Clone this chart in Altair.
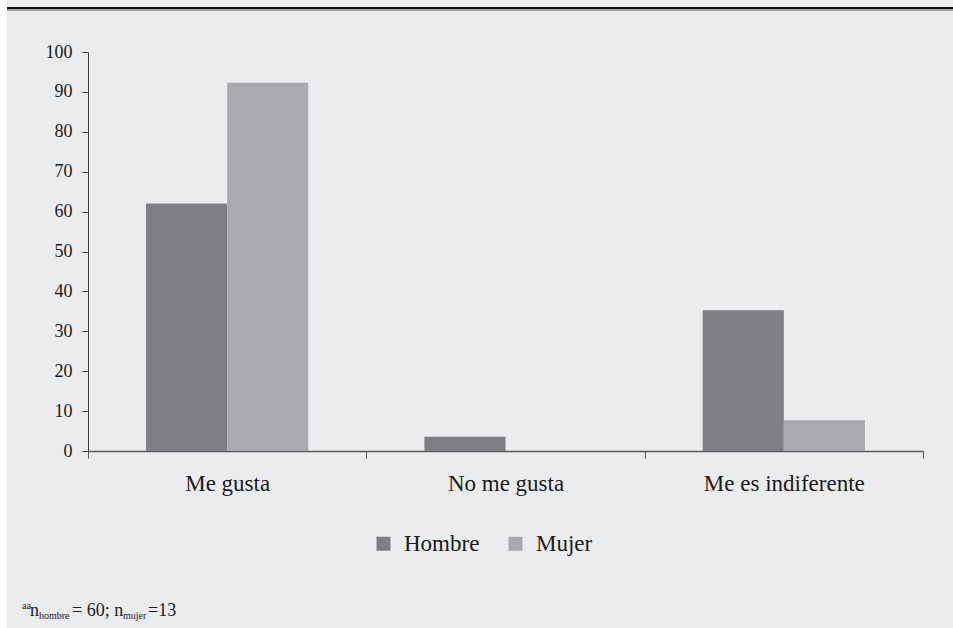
import altair as alt
import pandas as pd

categories = ["Me gusta", "No me gusta", "Me es indiferente"]
series = ["Hombre", "Mujer"]
hombre = [62.0, 3.6, 35.3]
mujer = [92.3, 0.0, 7.7]
y_ticks = list(range(0, 101, 10))
colors = ["#7E7F83", "#A9AAAD"]

rows = []
for c, h, m in zip(categories, hombre, mujer):
    rows.append({"cat": c, "sexo": "Hombre", "valor": h})
    rows.append({"cat": c, "sexo": "Mujer", "valor": m})
df = pd.DataFrame(rows)

FONT = "Liberation Serif"
W, H = 835, 399
L, T = 88, 52

bars = alt.Chart(df).mark_bar().encode(
    x=alt.X("cat:N", sort=categories, title=None,
            scale=alt.Scale(paddingInner=0, paddingOuter=0),
            axis=alt.Axis(tickBand="extent", tickSize=7, labelAngle=0,
                          labelFontSize=23, labelFont=FONT, labelColor="#1a1a1a",
                          labelPadding=14, domainColor="#5a5a5a", tickColor="#5a5a5a",
                          domainWidth=1.5, grid=False)),
    xOffset=alt.XOffset("sexo:N", sort=series,
                        scale=alt.Scale(paddingOuter=0.716, paddingInner=0)),
    y=alt.Y("valor:Q", title=None, scale=alt.Scale(domain=[0, 100], nice=False),
            axis=alt.Axis(values=y_ticks, tickSize=6, labelFontSize=18, labelFont=FONT,
                          labelColor="#1a1a1a", labelPadding=10, domainColor="#3a3a3a",
                          tickColor="#3a3a3a", grid=False)),
    color=alt.Color("sexo:N", sort=series,
                    scale=alt.Scale(domain=series, range=colors),
                    legend=alt.Legend(title=None, orient="none", legendX=284, legendY=480,
                                      direction="horizontal", symbolType="square",
                                      symbolSize=196, symbolStrokeWidth=0,
                                      symbolOpacity=1,
                                      labelFontSize=23, labelFont=FONT,
                                      labelColor="#1a1a1a", labelOffset=9,
                                      columnPadding=24)),
)

top_line = alt.Chart(df).mark_rule(color="#111111", strokeWidth=2).encode(
    x=alt.value(7 - L), x2=alt.value(953 - L), y=alt.value(8 - T))
top_line2 = alt.Chart(df).mark_rule(color="#9a9a9a", strokeWidth=1).encode(
    x=alt.value(7 - L), x2=alt.value(953 - L), y=alt.value(9.8 - T))
white_strip = alt.Chart(df).mark_rect(color="white").encode(
    x=alt.value(0 - L), x2=alt.value(7 - L), y=alt.value(0 - T), y2=alt.value(628 - T))

def txt(s, x, y, size):
    return alt.Chart(pd.DataFrame({"t": [s]})).mark_text(
        text=s, font=FONT, fontSize=size, align="left", baseline="alphabetic",
        color="#1a1a1a").encode(x=alt.value(x - L), y=alt.value(y - T))

base_y = 616
foot = [
    txt("aa", 22, base_y - 7, 10),
    txt("n", 30, base_y, 18),
    txt("hombre", 39, base_y + 3, 10),
    txt("= 60; n", 72, base_y, 18),
    txt("mujer", 123, base_y + 3, 10),
    txt("=13", 148, base_y, 18),
]

chart = alt.layer(white_strip, top_line, top_line2, bars, *foot).properties(
    width=W, height=H,
    autosize=alt.AutoSizeParams(type="none"),
    padding={"left": L, "top": T, "right": 953 - L - W, "bottom": 628 - T - H},
    background="#EBECEE",
).configure_view(stroke=None)

chart.save("out.html", embed_options={"renderer": "svg", "actions": False})
